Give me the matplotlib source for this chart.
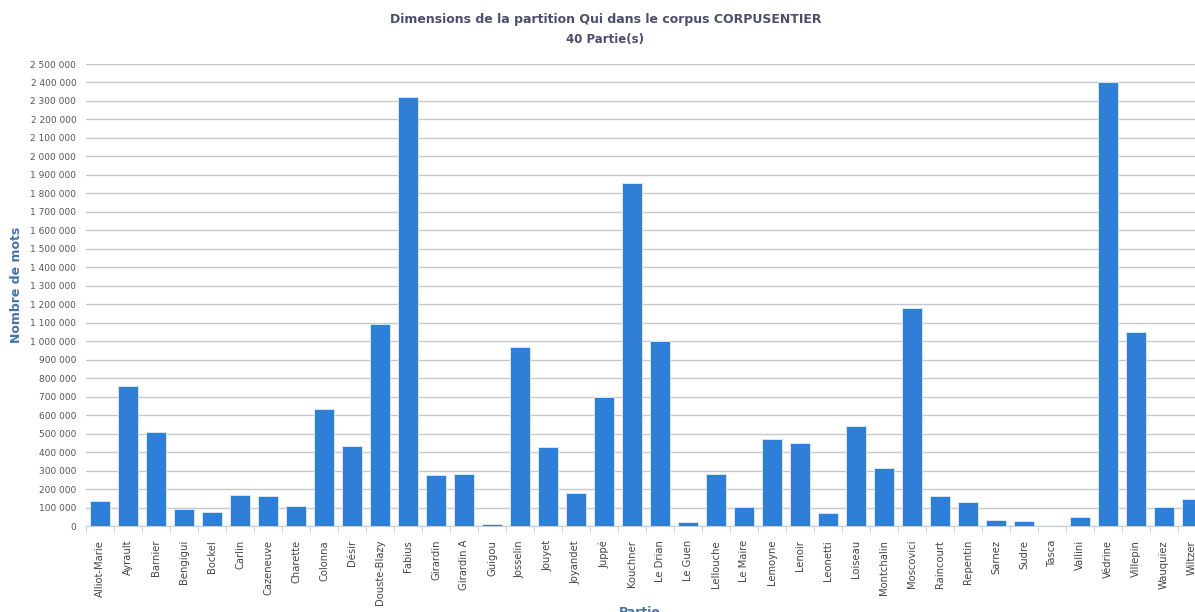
import numpy as np
import matplotlib.pyplot as plt
from matplotlib.ticker import FuncFormatter, MultipleLocator

# parties (40) et nombre de mots
parties = ["Alliot-Marie", "Ayrault", "Barnier", "Bengigui", "Bockel", "Carlin",
           "Cazeneuve", "Charette", "Colonna", "Désir", "Douste-Blazy", "Fabius",
           "Girardin", "Girardin A", "Guigou", "Josselin", "Jouyet", "Joyandet",
           "Juppé", "Kouchner", "Le Drian", "Le Guen", "Lellouche", "Le Maire",
           "Lemoyne", "Lenoir", "Leonetti", "Loiseau", "Montchalin", "Moscovici",
           "Raincourt", "Repentin", "Sarnez", "Sudre", "Tasca", "Vallini",
           "Védrine", "Villepin", "Wauquiez", "Wiltzer"]
mots = [133000, 758000, 507000, 92000, 77000, 166000,
        161000, 110000, 633000, 431000, 1091000, 2320000,
        276000, 283000, 12000, 970000, 427000, 180000,
        698000, 1854000, 1003000, 24000, 281000, 101000,
        471000, 449000, 69000, 541000, 312000, 1181000,
        162000, 130000, 34000, 29000, 2500, 50000,
        2401000, 1051000, 101000, 144000]

titre = "Dimensions de la partition Qui dans le corpus CORPUSENTIER"
sous_titre = "40 Partie(s)"

plt.rcParams['font.family'] = ['DejaVu Sans']
fig = plt.figure(figsize=(11.95, 6.12), dpi=100)
# la zone de tracé déborde à droite, comme sur la capture
ax = fig.add_axes([86 / 1195, 86 / 612, 1120 / 1195, 462 / 612])

x = np.arange(len(parties))
ax.bar(x, mots, width=0.72, color='#2F7ED8', edgecolor='#d6e6f8', linewidth=0.7, zorder=3)

ax.set_xlim(-0.5, len(parties) - 0.5)
ax.set_ylim(0, 2500000)
ax.yaxis.set_major_locator(MultipleLocator(100000))
ax.yaxis.set_major_formatter(FuncFormatter(lambda v, p: f"{int(v):,}".replace(",", " ")))
ax.grid(axis='y', color='#c8c8c8', linewidth=1, zorder=0)
ax.tick_params(axis='y', length=0, labelsize=6.5, labelcolor='#555555', pad=7)

ax.set_xticks(x)
ax.set_xticklabels(parties, rotation=90, fontsize=7.2, color='#444444')
ax.set_xticks(np.arange(len(parties) + 1) - 0.5, minor=True)
ax.tick_params(axis='x', which='major', length=0, pad=10)
ax.tick_params(axis='x', which='minor', length=5, color='#c0d0e0')

for s in ['top', 'right', 'left']:
    ax.spines[s].set_visible(False)
ax.spines['bottom'].set_color('#c0d0e0')

fig.text(17 / 1195, 1 - 285 / 612, "Nombre de mots", rotation=90, ha='center', va='center',
         fontsize=9, color='#4572A7', fontweight='bold')
fig.text(640 / 1195, 1 - 613 / 612, "Partie", ha='center', va='center', fontsize=9,
         color='#4572A7', fontweight='bold')

fig.text(606 / 1195, 1 - 20 / 612, titre, ha='center', va='center', fontsize=9,
         color='#4d4d6d', fontweight='bold')
fig.text(605 / 1195, 1 - 40 / 612, sous_titre, ha='center', va='center', fontsize=8.5,
         color='#4d4d6d', fontweight='bold')

fig.savefig("out.png", dpi=100)
